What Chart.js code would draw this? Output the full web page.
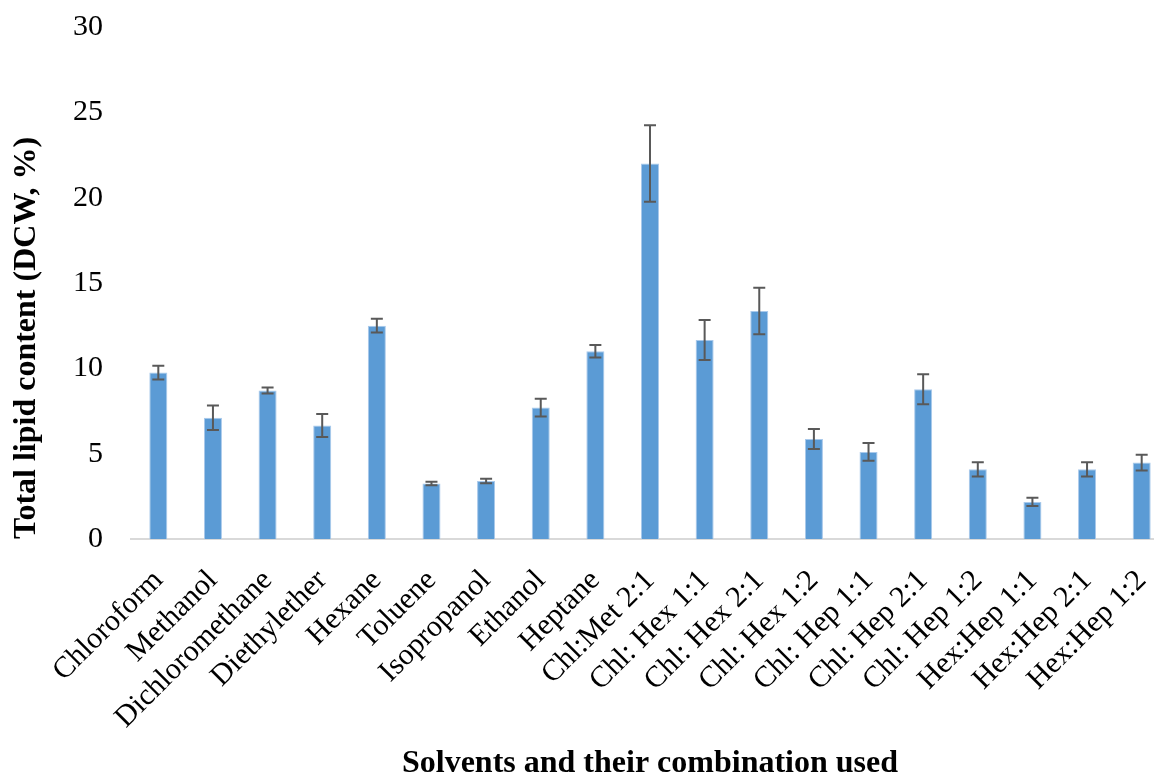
<!DOCTYPE html>
<html>
<head>
<meta charset="utf-8">
<script src="https://cdn.jsdelivr.net/npm/chart.js@4"></script>
<style>
  html, body { margin: 0; padding: 0; background: #fff; overflow: hidden; }
  #wrap { width: 1169px; height: 783px; }
</style>
</head>
<body>
<div id="wrap"><canvas id="lipidChart" width="1169" height="783"></canvas></div>
<script>
const solvents = [
  "Chloroform", "Methanol", "Dichloromethane", "Diethylether", "Hexane",
  "Toluene", "Isopropanol", "Ethanol", "Heptane", "Chl:Met 2:1",
  "Chl: Hex 1:1", "Chl: Hex 2:1", "Chl: Hex 1:2", "Chl: Hep 1:1",
  "Chl: Hep 2:1", "Chl: Hep 1:2", "Hex:Hep 1:1", "Hex:Hep 2:1", "Hex:Hep 1:2"
];
const lipidContent = [9.75, 7.1, 8.7, 6.65, 12.5, 3.25, 3.4, 7.7, 11.0, 22.0,
                      11.66, 13.36, 5.86, 5.1, 8.77, 4.08, 2.17, 4.08, 4.48];
const lipidError = [0.4, 0.72, 0.17, 0.68, 0.4, 0.1, 0.13, 0.52, 0.37, 2.24,
                    1.17, 1.36, 0.59, 0.52, 0.88, 0.42, 0.24, 0.42, 0.46];
const yTicks = [0, 5, 10, 15, 20, 25, 30];

const serif = "'Liberation Serif', 'Times New Roman', serif";

// error bars drawn through the y scale
const errorBars = {
  id: 'errorBars',
  afterDatasetsDraw(chart) {
    const ctx = chart.ctx;
    const y = chart.scales.y;
    const meta = chart.getDatasetMeta(0);
    ctx.save();
    ctx.strokeStyle = '#595959';
    ctx.lineWidth = 2;
    meta.data.forEach((bar, i) => {
      const top = y.getPixelForValue(lipidContent[i] + lipidError[i]);
      const bot = y.getPixelForValue(lipidContent[i] - lipidError[i]);
      ctx.beginPath();
      ctx.moveTo(bar.x, top); ctx.lineTo(bar.x, bot);
      ctx.moveTo(bar.x - 6, top); ctx.lineTo(bar.x + 6, top);
      ctx.moveTo(bar.x - 6, bot); ctx.lineTo(bar.x + 6, bot);
      ctx.stroke();
    });
    ctx.restore();
  }
};

new Chart(document.getElementById('lipidChart'), {
  type: 'bar',
  data: {
    labels: solvents,
    datasets: [{
      data: lipidContent,
      backgroundColor: '#5B9BD5',
      borderColor: '#A9C9EB',
      borderWidth: 1,
      barPercentage: 0.33,
      categoryPercentage: 1
    }]
  },
  options: {
    responsive: false,
    animation: false,
    layout: { padding: { top: 27, right: 0, bottom: 0, left: 0 } },
    plugins: {
      legend: { display: false },
      tooltip: { enabled: false }
    },
    scales: {
      x: {
        grid: { display: false, drawTicks: false },
        border: { color: '#D9D9D9', width: 2 },
        ticks: {
          color: '#000',
          font: { family: serif, size: 30 },
          maxRotation: 45, minRotation: 45,
          autoSkip: false,
          padding: 24
        },
        title: {
          display: true,
          text: 'Solvents and their combination used',
          color: '#000',
          font: { family: serif, size: 32, weight: 'bold' },
          padding: { top: 0, bottom: 0 }
        },
        afterFit(s) {
          s.height = 244;
          s.paddingLeft = 0;
          s.paddingRight = 0;
          s.paddingTop = 0;
          s.paddingBottom = 0;
        }
      },
      y: {
        min: 0, max: 30,
        grid: { display: false, drawTicks: false },
        border: { display: false },
        afterBuildTicks(s) { s.ticks = yTicks.map(v => ({ value: v })); },
        ticks: {
          color: '#000',
          font: { family: serif, size: 30 },
          padding: 28
        },
        title: {
          display: true,
          text: 'Total lipid content (DCW, %)',
          color: '#000',
          align: 'start',
          font: { family: serif, size: 32, weight: 'bold' },
          padding: { top: 8, bottom: 0 }
        },
        afterFit(s) {
          s.width = 131;
          s.paddingTop = 0;
          s.paddingBottom = 0;
        }
      }
    }
  },
  plugins: [errorBars]
});
</script>
</body>
</html>
